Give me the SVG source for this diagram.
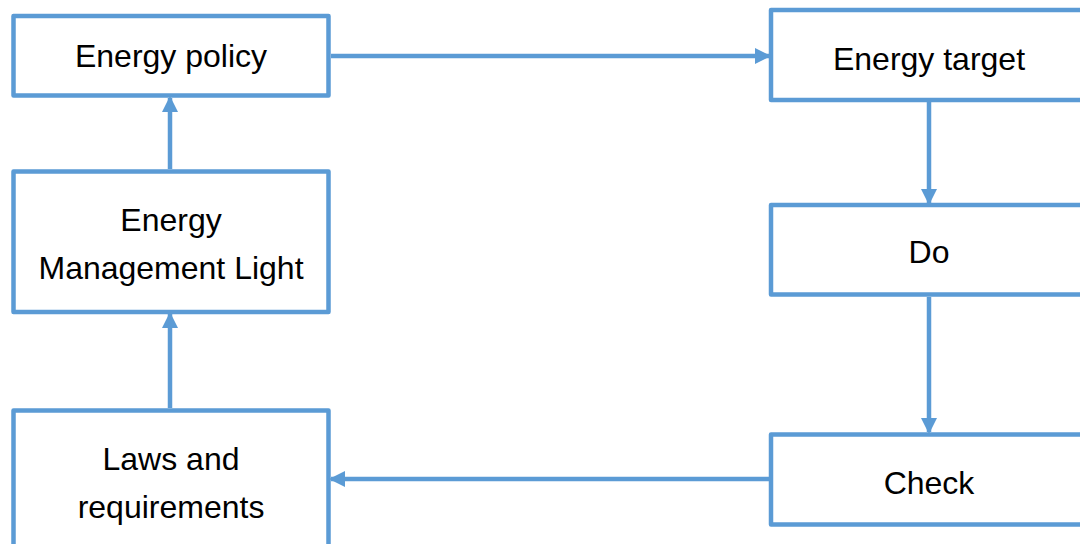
<svg xmlns="http://www.w3.org/2000/svg" width="1080" height="544" viewBox="0 0 1080 544">
<style>
.box{fill:#fff;stroke:#5B9BD5;stroke-width:4.5;stroke-linejoin:round}
.lbl{font-family:"Liberation Sans",Arial,sans-serif;font-size:32px;fill:#000;text-anchor:middle}
.con{stroke:#5B9BD5;stroke-width:4.5;fill:none}
</style>
<defs>
<marker id="ah" markerUnits="userSpaceOnUse" viewBox="0 0 16 16" refX="14" refY="8" markerWidth="16" markerHeight="16" orient="auto">
<path d="M0,0 L16,8 L0,16 Z" fill="#5B9BD5"/>
</marker>
</defs>
<rect width="1080" height="544" fill="#fff"/>
<g id="connectors">
<line class="con" x1="170" y1="169" x2="170" y2="98" marker-end="url(#ah)"/>
<line class="con" x1="170" y1="408" x2="170" y2="314" marker-end="url(#ah)"/>
<line class="con" x1="331" y1="56" x2="769" y2="56" marker-end="url(#ah)"/>
<line class="con" x1="929" y1="102" x2="929" y2="203" marker-end="url(#ah)"/>
<line class="con" x1="929" y1="297" x2="929" y2="432" marker-end="url(#ah)"/>
<line class="con" x1="769" y1="479" x2="331" y2="479" marker-end="url(#ah)"/>
</g>
<g id="energy-policy">
<rect class="box" x="13.5" y="16" width="315" height="79.5"/>
<text class="lbl" x="171" y="67">Energy policy</text>
</g>
<g id="energy-management-light">
<rect class="box" x="13.5" y="171.5" width="315" height="140.5"/>
<text class="lbl" x="171" y="231">Energy</text>
<text class="lbl" x="171" y="279">Management Light</text>
</g>
<g id="laws-and-requirements">
<rect class="box" x="13.5" y="410.5" width="315" height="150"/>
<text class="lbl" x="171" y="470">Laws and</text>
<text class="lbl" x="171" y="518">requirements</text>
</g>
<g id="energy-target">
<rect class="box" x="771" y="10" width="320" height="90"/>
<text class="lbl" x="929" y="70">Energy target</text>
</g>
<g id="do">
<rect class="box" x="771" y="205" width="320" height="89.5"/>
<text class="lbl" x="929" y="263">Do</text>
</g>
<g id="check">
<rect class="box" x="771" y="434.5" width="320" height="90"/>
<text class="lbl" x="929" y="494">Check</text>
</g>
</svg>
